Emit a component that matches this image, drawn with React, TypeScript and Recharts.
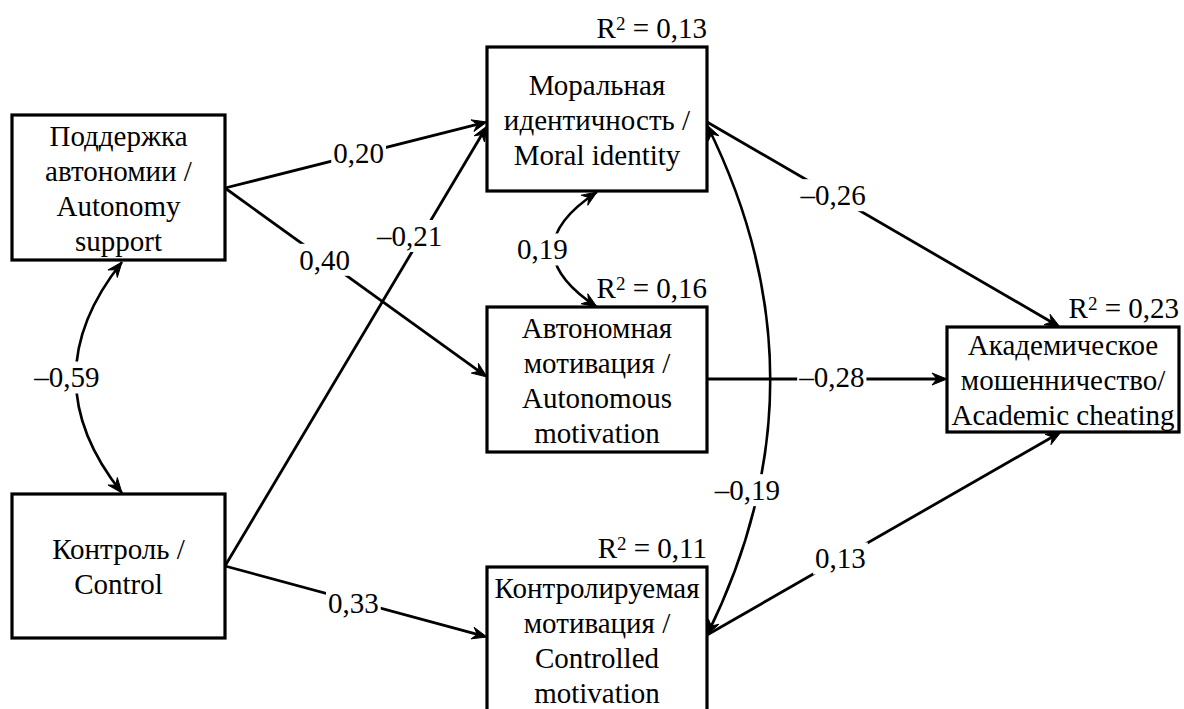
import React from 'react';
import { ScatterChart, XAxis, YAxis, Scatter, ReferenceArea, ReferenceLine } from 'recharts';

const CHART_W = 1184;
const CHART_H = 709;
const FONT = 'Liberation Serif';
const FS = 29;
const LINE_H = 35;

// ---------- values ----------
const nodeLabels: string[][] = [
  ['Поддержка', 'автономии /', 'Autonomy', 'support'],
  ['Контроль /', 'Control'],
  ['Моральная', 'идентичность /', 'Moral identity'],
  ['Автономная', 'мотивация /', 'Autonomous', 'motivation'],
  ['Контролируемая', 'мотивация /', 'Controlled', 'motivation'],
  ['Академическое', 'мошенничество/', 'Academic cheating'],
];
const rSquared: string[] = ['', '', '0,13', '0,16', '0,11', '0,23'];

const pathFrom = [0, 0, 1, 1, 2, 3, 4];
const pathTo = [2, 3, 2, 4, 5, 5, 5];
const pathCoefficients = ['0,20', '0,40', '–0,21', '0,33', '–0,26', '–0,28', '0,13'];

const covarianceA = [0, 2, 2];
const covarianceB = [1, 3, 4];
const covarianceCoefficients = ['–0,59', '0,19', '–0,19'];

// ---------- layout (diagram coordinates) ----------
const nodeLeft = [12, 12, 487, 487, 487, 947];
const nodeRight = [225, 225, 707, 707, 707, 1179];
const nodeTop = [115, 494, 47, 307, 567, 327];
const nodeBottom = [260, 638, 191, 452, 712, 432];

const pathStart = [[225, 188], [225, 188], [225, 566], [225, 566], [707, 122], [707, 379], [707, 635]];
const pathEnd = [[487, 122], [487, 377], [487, 126], [487, 637], [1060, 327], [947, 379], [1061, 432]];
const pathLabelT = [0.51, 0.38, 0.75, 0.49, 0.357, 0.52, 0.377];
const pathLabelDx = [0, 0, -12, 0, 0, 0, 0];
const pathLabelDy = [-1, 0, 0, 2, 0, -2, 0];

const covStart = [[122, 262], [597, 192], [707, 125]];
const covEnd = [[122, 493], [597, 307], [707, 635]];
const covBulge = [0.2, 0.38, -0.124];
const covLabelT = [0.5, 0.5, 0.716];
const covLabelDx = [-9, -11, -11];

const nodeCenters = nodeLeft.map((l, i) => ({
  x: (l + nodeRight[i]) / 2,
  y: (nodeTop[i] + nodeBottom[i]) / 2,
  name: nodeLabels[i].join(' '),
}));

// ---------- drawing helpers ----------
const textWidth = (s: string) =>
  s.split('').reduce((w, c) => w + (c === ',' ? 0.25 : 0.5), 0) * FS;

function CoefLabel({ cx, cy, text }: { cx: number; cy: number; text: string }) {
  const w = textWidth(text) + 4;
  return (
    <g>
      <rect x={cx - w / 2} y={cy - 16} width={w} height={32} fill="#fff" />
      <text x={cx} y={cy + 9.8} textAnchor="middle" fontFamily={FONT} fontSize={FS} fill="#000">
        {text}
      </text>
    </g>
  );
}

function Arrowhead({ x, y, ux, uy }: { x: number; y: number; ux: number; uy: number }) {
  const L = 15;
  const HW = 6;
  const N = 10;
  const nx = -uy;
  const ny = ux;
  const bx = x - ux * L;
  const by = y - uy * L;
  const pts = [
    [x, y],
    [bx + nx * HW, by + ny * HW],
    [x - ux * N, y - uy * N],
    [bx - nx * HW, by - ny * HW],
  ]
    .map((p) => `${p[0]},${p[1]}`)
    .join(' ');
  return <polygon points={pts} fill="#000" stroke="#000" strokeWidth={1} strokeLinejoin="miter" />;
}

const boxShape = (i: number) => (p: any) => {
  const { x, y, width, height } = p;
  const lines = nodeLabels[i];
  const cx = x + width / 2;
  const cy = y + height / 2;
  return (
    <g>
      <rect x={x} y={y} width={width} height={height} fill="#fff" stroke="#000" strokeWidth={3.2} />
      {lines.map((s, k) => (
        <text
          key={k}
          x={cx}
          y={cy + (k - (lines.length - 1) / 2) * LINE_H + 10.5}
          textAnchor="middle"
          fontFamily={FONT}
          fontSize={FS}
          fill="#000"
        >
          {s}
        </text>
      ))}
      {rSquared[i] ? (
        <text x={x + width} y={y - 9} textAnchor="end" fontFamily={FONT} fontSize={FS} fill="#000">
          R
          <tspan dy={-8} fontSize={19}>
            2
          </tspan>
          <tspan dy={8}>{` = ${rSquared[i]}`}</tspan>
        </text>
      ) : null}
    </g>
  );
};

const pathShape = (i: number) => (p: any) => {
  const { x1, y1, x2, y2 } = p;
  const dx = x2 - x1;
  const dy = y2 - y1;
  const len = Math.hypot(dx, dy);
  const ux = dx / len;
  const uy = dy / len;
  const t = pathLabelT[i];
  const cx = x1 + dx * t + pathLabelDx[i];
  const cy = y1 + dy * t + pathLabelDy[i];
  return (
    <g>
      <line x1={x1} y1={y1} x2={x2 - ux * 9} y2={y2 - uy * 9} stroke="#000" strokeWidth={2.8} />
      <Arrowhead x={x2} y={y2} ux={ux} uy={uy} />
      <CoefLabel cx={cx} cy={cy} text={pathCoefficients[i]} />
    </g>
  );
};

const covShape = (i: number) => (p: any) => {
  const { x1, y1, x2, y2 } = p;
  const dx = x2 - x1;
  const dy = y2 - y1;
  const len = Math.hypot(dx, dy);
  const nx = -dy / len;
  const ny = dx / len;
  const b = covBulge[i] * len;
  const qx = (x1 + x2) / 2 + nx * 2 * b;
  const qy = (y1 + y2) / 2 + ny * 2 * b;
  const t = covLabelT[i];
  const bx = (1 - t) * (1 - t) * x1 + 2 * t * (1 - t) * qx + t * t * x2;
  const by = (1 - t) * (1 - t) * y1 + 2 * t * (1 - t) * qy + t * t * y2;
  const d0 = Math.hypot(x1 - qx, y1 - qy);
  const d2 = Math.hypot(x2 - qx, y2 - qy);
  return (
    <g>
      <path d={`M${x1},${y1} Q${qx},${qy} ${x2},${y2}`} fill="none" stroke="#000" strokeWidth={2.6} />
      <Arrowhead x={x1} y={y1} ux={(x1 - qx) / d0} uy={(y1 - qy) / d0} />
      <Arrowhead x={x2} y={y2} ux={(x2 - qx) / d2} uy={(y2 - qy) / d2} />
      <CoefLabel cx={bx + covLabelDx[i]} cy={by} text={covarianceCoefficients[i]} />
    </g>
  );
};

export default function App() {
  return (
    <div style={{ position: 'absolute', left: 0, top: 0, width: CHART_W, height: CHART_H, background: '#fff' }}>
      <ScatterChart width={CHART_W} height={CHART_H} margin={{ top: 0, right: 0, bottom: 0, left: 0 }}>
        <XAxis type="number" dataKey="x" domain={[0, CHART_W]} hide allowDataOverflow />
        <YAxis type="number" dataKey="y" domain={[0, CHART_H]} reversed hide allowDataOverflow />
        <Scatter data={nodeCenters} isAnimationActive={false} shape={() => <g />} />
        {nodeLabels.map((_, i) => (
          <ReferenceArea
            key={`n${i}`}
            x1={nodeLeft[i]}
            x2={nodeRight[i]}
            y1={nodeTop[i]}
            y2={nodeBottom[i]}
            ifOverflow="visible"
            shape={boxShape(i)}
          />
        ))}
        {pathFrom.map((f, i) => (
          <ReferenceLine
            key={`p${i}-${f}-${pathTo[i]}`}
            segment={[
              { x: pathStart[i][0], y: pathStart[i][1] },
              { x: pathEnd[i][0], y: pathEnd[i][1] },
            ]}
            ifOverflow="visible"
            shape={pathShape(i)}
          />
        ))}
        {covarianceA.map((a, i) => (
          <ReferenceLine
            key={`c${i}-${a}-${covarianceB[i]}`}
            segment={[
              { x: covStart[i][0], y: covStart[i][1] },
              { x: covEnd[i][0], y: covEnd[i][1] },
            ]}
            ifOverflow="visible"
            shape={covShape(i)}
          />
        ))}
      </ScatterChart>
    </div>
  );
}
